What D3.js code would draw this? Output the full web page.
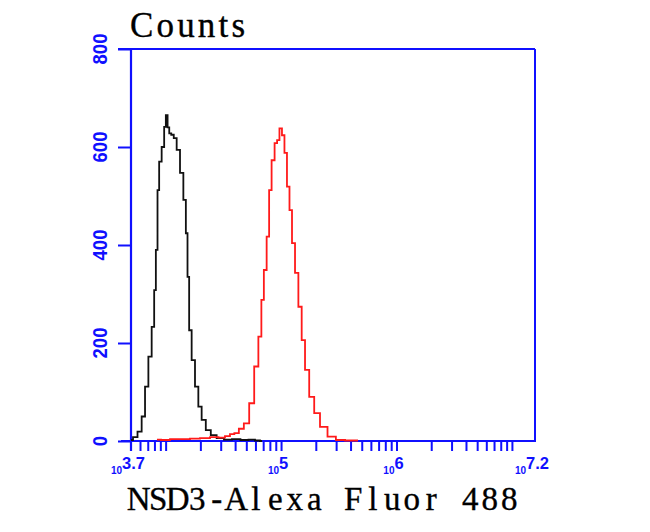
<!DOCTYPE html>
<html>
<head>
<meta charset="utf-8">
<script src="https://cdn.jsdelivr.net/npm/d3@7"></script>
<style>
  html, body { margin: 0; padding: 0; background: #ffffff; }
  svg { display: block; }
</style>
</head>
<body>
<svg id="chart" width="650" height="532"></svg>
<script>
// ---- data ----
const xDomainExp = [3.7, 7.2];
const yDomain = [0, 800];
const yTickValues = [0, 200, 400, 600, 800];
const xLabelExps = ["3.7", "5", "6", "7.2"];

// Control (black) histogram: fluorescence intensity vs counts
const controlIntensity = [5012, 5430, 5998, 6407, 6862, 7323, 7825, 8091, 8371, 8643, 8937, 9549, 9878, 10210, 10590, 10910, 11470, 12060, 12880, 13780, 14720, 15230, 15720, 16260, 17370, 18580, 19850, 21200, 23430, 25880, 29580, 34680, 40650, 48710, 56010, 63110, 68350];
const controlCounts    = [2, 8, 19, 50, 111, 172, 233, 308, 390, 512, 570, 600, 641, 665, 640, 628, 625, 618, 594, 547, 492, 424, 335, 226, 165, 111, 70, 43, 22, 12, 6, 3, 4, 2, 3, 1, 0];

// NSD3 stained (red) histogram
const nsd3Intensity = [8414, 9878, 12060, 14720, 17970, 21940, 26790, 30780, 34680, 37570, 41280, 44990, 50380, 55670, 61520, 65750, 69350, 72610, 77510, 80130, 85580, 90290, 94550, 99220, 104500, 109600, 115500, 121200, 127700, 136700, 146000, 156000, 166800, 184300, 203600, 232300, 274700, 324300, 396300, 464500];
const nsd3Counts    = [3, 2, 4, 4, 5, 6, 8, 7, 10, 14, 16, 25, 36, 77, 152, 213, 288, 349, 417, 512, 573, 608, 614, 638, 624, 588, 519, 471, 404, 343, 274, 206, 145, 90, 57, 29, 9, 2, 1, 1];

const yTitle = "Counts";
const xTitle = "NSD3-Alexa Fluor 488";

// ---- layout ----
const svg = d3.select("#chart");
const mLeft = 131, mRight = 535, mTop = 49, mBottom = 441;
const blue = "#1010ff";

const x = d3.scaleLog()
  .domain([Math.pow(10, xDomainExp[0]), Math.pow(10, xDomainExp[1])])
  .range([mLeft, mRight]);
const y = d3.scaleLinear().domain(yDomain).range([mBottom, mTop]);

// minor/major ticks for log axis
const xTicks = [];
for (let d = 3; d <= 7; d++) {
  for (let m = 1; m <= 9; m++) {
    const v = m * Math.pow(10, d);
    if (v > x.domain()[0] * 1.001 && v < x.domain()[1] * 0.999) xTicks.push(v);
  }
}

// frame (top & right)
svg.append("line").attr("x1", mLeft - 13).attr("x2", mRight).attr("y1", mTop).attr("y2", mTop)
  .attr("stroke", blue).attr("stroke-width", 2);
svg.append("line").attr("x1", mRight).attr("x2", mRight).attr("y1", mTop).attr("y2", mBottom + 1)
  .attr("stroke", blue).attr("stroke-width", 2);

// x axis
const xAxis = d3.axisBottom(x).tickValues(xTicks).tickSize(10).tickFormat("");
const gx = svg.append("g").attr("transform", `translate(0,${mBottom})`).call(xAxis);
gx.select(".domain").attr("stroke", blue).attr("stroke-width", 2.2).attr("d", `M${mLeft - 10},0H${mRight + 1}`);
gx.selectAll(".tick line").attr("stroke", blue).attr("stroke-width", 2);

// x tick labels
xLabelExps.forEach(e => {
  const t = svg.append("text")
    .attr("x", x(Math.pow(10, +e)) - 3)
    .attr("y", 469)
    .attr("text-anchor", "middle")
    .attr("fill", blue)
    .attr("font-family", "Liberation Sans, Arial, sans-serif")
    .attr("font-weight", "bold");
  t.append("tspan").attr("font-size", 10).attr("dy", 5).text("10");
  t.append("tspan").attr("font-size", 16.5).attr("dy", -5).text(e);
});

// y axis
const yAxis = d3.axisLeft(y).tickValues(yTickValues).tickSize(13).tickFormat("");
const gy = svg.append("g").attr("transform", `translate(${mLeft},0)`).call(yAxis);
gy.select(".domain").attr("stroke", blue).attr("stroke-width", 2.2).attr("d", `M0,${mTop}V${mBottom + 10}`);
gy.selectAll(".tick line").attr("stroke", blue).attr("stroke-width", 2);

yTickValues.forEach(v => {
  svg.append("text")
    .attr("transform", `translate(107,${y(v)}) rotate(-90) scale(0.88,1)`)
    .attr("text-anchor", "middle")
    .attr("fill", blue)
    .attr("font-family", "Liberation Sans, Arial, sans-serif")
    .attr("font-weight", "bold")
    .attr("font-size", 21)
    .text(v);
});

// histograms
const line = d3.line().curve(d3.curveStep).x(d => x(d[0])).y(d => y(d[1]));
svg.append("path")
  .datum(controlIntensity.map((v, i) => [v, controlCounts[i]]))
  .attr("d", line).attr("fill", "none").attr("stroke", "#111").attr("stroke-width", 1.8);
svg.append("path")
  .datum(nsd3Intensity.map((v, i) => [v, nsd3Counts[i]]))
  .attr("d", line).attr("fill", "none").attr("stroke", "#ff1a1a").attr("stroke-width", 1.8);

// serif titles
const serif = "'Liberation Serif', 'Times New Roman', serif";
const ctx = document.createElement("canvas").getContext("2d");
function monoText(str, x0, baseline, pitch, size) {
  ctx.font = `${size}px ${serif}`;
  const xs = Array.from(str).map((ch, i) => {
    const w = ctx.measureText(ch).width;
    return (x0 + i * pitch + (pitch - w) / 2).toFixed(2);
  });
  svg.append("text")
    .attr("x", xs.join(" "))
    .attr("y", baseline)
    .attr("font-family", serif)
    .attr("font-size", size)
    .attr("fill", "#000")
    .attr("stroke", "#000").attr("stroke-width", 0.35)
    .text(str);
}
svg.append("text")
  .attr("x", 130).attr("y", 37)
  .attr("font-family", serif)
  .attr("font-size", 35)
  .attr("textLength", 115)
  .attr("lengthAdjust", "spacing")
  .attr("fill", "#000")
  .attr("stroke", "#000").attr("stroke-width", 0.35)
  .text(yTitle);
monoText(xTitle, 129, 510, 19.5, 33);
</script>
</body>
</html>
